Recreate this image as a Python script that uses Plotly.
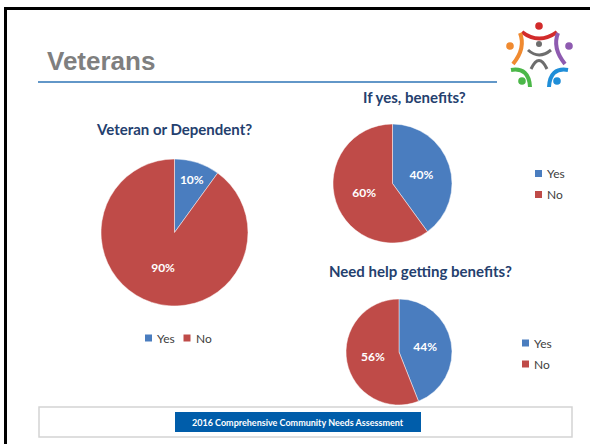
import plotly.graph_objects as go

# data
labels = ["Yes", "No"]
veteran_values = [10, 90]
benefits_values = [40, 60]
help_values = [44, 56]

titles = ["Veteran or Dependent?", "If yes, benefits?", "Need help getting benefits?"]
slide_title = "Veterans"
footer_text = "2016 Comprehensive Community Needs Assessment"

colors = ["#4A7DBF", "#BF4B48"]
title_color = "#24406E"

W, H = 590, 444


def px(x):
    return x / W


def py(y):
    return 1 - y / H


def pie_domain(cx, cy, r):
    return dict(x=[px(cx - r), px(cx + r)], y=[py(cy + r), py(cy - r)])


def make_pie(values, domain):
    return go.Pie(labels=labels, values=values, sort=False, direction="clockwise",
                  rotation=0, domain=domain, showlegend=False,
                  marker=dict(colors=colors, line=dict(color="rgba(255,255,255,0.6)", width=0.8)),
                  textinfo="percent", textposition="inside",
                  insidetextorientation="horizontal",
                  textfont=dict(family="Lato", size=12, color="white", weight="bold"),
                  hoverinfo="label+percent")


fig = go.Figure()
fig.add_trace(make_pie(veteran_values, pie_domain(174.5, 232.5, 73.5)))
fig.add_trace(make_pie(benefits_values, pie_domain(392.5, 183.5, 59.5)))
fig.add_trace(make_pie(help_values, pie_domain(399, 352, 53)))

title_font = dict(family="Lato", size=15, color=title_color, weight="bold")
annotations = [
    dict(text=slide_title, x=px(45), y=py(61), xanchor="left", yanchor="middle",
         font=dict(family="Liberation Sans", size=26, color="#7F7F7F", weight="bold")),
    dict(text=titles[0], x=px(174), y=py(129), xanchor="center", yanchor="middle", font=title_font),
    dict(text=titles[1], x=px(414), y=py(97), xanchor="center", yanchor="middle", font=title_font),
    dict(text=titles[2], x=px(420), y=py(271), xanchor="center", yanchor="middle", font=title_font),
    dict(text=footer_text, x=px(298), y=py(422), xanchor="center", yanchor="middle",
         font=dict(family="Lato", size=9, color="white", weight="bold")),
]

shapes = [
    # slide frame
    dict(type="line", x0=px(4), x1=px(590), y0=py(8.5), y1=py(8.5), line=dict(color="black", width=3)),
    dict(type="line", x0=px(5.5), x1=px(5.5), y0=py(7), y1=py(444), line=dict(color="black", width=3)),
    # title rule
    dict(type="line", x0=px(38), x1=px(497), y0=py(82), y1=py(82), line=dict(color="#2E75B6", width=1.5)),
    # footer
    dict(type="rect", x0=px(39), x1=px(572), y0=py(407), y1=py(437), line=dict(color="#D4D4D4", width=1.5)),
    dict(type="rect", x0=px(175), x1=px(421), y0=py(412), y1=py(432), fillcolor="#005DAA", line=dict(width=0)),
]


def legend_box(x, y, steps):
    # small square swatch + label for each category
    for i, (lab, col) in enumerate(zip(labels, colors)):
        sx, sy = x + steps[0] * i, y + steps[1] * i
        shapes.append(dict(type="rect", x0=px(sx), x1=px(sx + 7), y0=py(sy + 3.5), y1=py(sy - 3.5),
                           fillcolor=col, line=dict(width=0)))
        annotations.append(dict(text=lab, x=px(sx + 10), y=py(sy), xanchor="left", yanchor="middle",
                                font=dict(family="Lato", size=12, color="#404040")))


legend_box(145, 338, (38.5, 0))
legend_box(535, 173.5, (0, 21))
legend_box(522, 343, (0, 21))

for a in annotations:
    a.update(xref="paper", yref="paper", showarrow=False)


def arc(x0, y0, cx, cy, x1, y1, color, width=4):
    return dict(type="path", path=f"M {px(x0)},{py(y0)} Q {px(cx)},{py(cy)} {px(x1)},{py(y1)}",
                line=dict(color=color, width=width))


def dot(x, y, r, color):
    return dict(type="circle", x0=px(x - r), x1=px(x + r), y0=py(y + r), y1=py(y - r),
                fillcolor=color, line=dict(width=0))


# logo
shapes += [
    dot(539, 26, 3.8, "#D22B2B"), arc(522, 32, 539, 45, 557, 32, "#D22B2B"),
    dot(510, 46, 3.8, "#F08A30"), arc(520, 33, 526, 48, 513, 64, "#F08A30"),
    dot(569, 46, 3.8, "#8E5BB0"), arc(558, 33, 552, 48, 565, 64, "#8E5BB0"),
    dot(539, 44, 3, "#6D6D6D"), arc(528, 50, 539, 60, 551, 50, "#6D6D6D", 3),
    arc(531, 69, 539, 52, 547, 69, "#6D6D6D", 3),
    arc(511, 70, 529, 67, 530, 87, "#4BB748"), dot(522, 81, 3.8, "#4BB748"),
    arc(568, 70, 550, 67, 549, 87, "#1F8ED8"), dot(557, 81, 3.8, "#1F8ED8"),
]

fig.update_layout(
    width=W, height=H, margin=dict(l=0, r=0, t=0, b=0),
    paper_bgcolor="white", plot_bgcolor="white",
    annotations=annotations, shapes=shapes,
)

fig.write_html("out.html", config={"displayModeBar": False},
               post_script="document.body.style.margin='0px';")
